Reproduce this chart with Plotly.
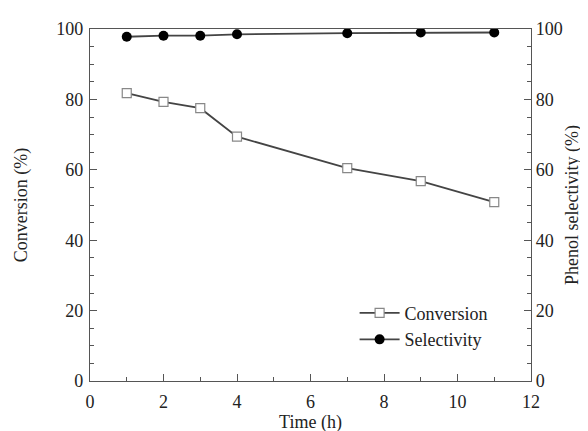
import plotly.graph_objects as go

time_h = [1, 2, 3, 4, 7, 9, 11]
conversion = [81.8, 79.3, 77.5, 69.4, 60.5, 56.8, 50.8]
selectivity = [97.8, 98.1, 98.1, 98.5, 98.8, 99.0, 99.0]

FONT = "Liberation Serif, Times New Roman, serif"
LINE = "#444444"

fig = go.Figure()
fig.add_trace(go.Scatter(
    x=time_h, y=conversion, name="Conversion", mode="lines+markers",
    line=dict(color=LINE, width=1.8),
    marker=dict(symbol="square", size=9, color="white", line=dict(width=1.2, color="#888888")),
    yaxis="y"))
fig.add_trace(go.Scatter(
    x=time_h, y=selectivity, name="Selectivity", mode="lines+markers",
    line=dict(color=LINE, width=1.8),
    marker=dict(symbol="circle", size=10, color="black"),
    yaxis="y2"))

axis_common = dict(
    showgrid=False, zeroline=False, showline=True, linecolor="#555555", linewidth=1.2,
    ticks="inside", ticklen=7, tickwidth=1, tickcolor="#555555",
    tickfont=dict(family=FONT, size=18, color="#222222"),
)

fig.update_layout(
    width=588, height=431,
    margin=dict(l=82, r=65, t=21, b=58, autoexpand=False),
    paper_bgcolor="white", plot_bgcolor="white",
    font=dict(family=FONT, size=18, color="#222222"),
    showlegend=True,
    legend=dict(x=0.60, y=0.245, xanchor="left", yanchor="top",
                bgcolor="rgba(0,0,0,0)", font=dict(family=FONT, size=18),
                tracegroupgap=0, itemwidth=40),
    xaxis=dict(range=[0, 12], tickvals=[0, 2, 4, 6, 8, 10, 12], mirror=True,
               ticklabelstandoff=4,
               minor=dict(dtick=1, ticks="inside", ticklen=4, tickcolor="#555555"),
               title=dict(text="Time (h)", font=dict(family=FONT, size=18), standoff=4),
               **axis_common),
    yaxis=dict(range=[0, 100], tickvals=[0, 20, 40, 60, 80, 100],
               ticklabelstandoff=2,
               minor=dict(dtick=5, ticks="inside", ticklen=4, tickcolor="#555555"),
               title=dict(text="Conversion (%)", font=dict(family=FONT, size=18), standoff=23),
               **axis_common),
    yaxis2=dict(range=[0, 100], tickvals=[0, 20, 40, 60, 80, 100], overlaying="y", side="right",
                minor=dict(dtick=5, ticks="inside", ticklen=4, tickcolor="#555555"),
                title=dict(text="Phenol selectivity (%)", font=dict(family=FONT, size=18), standoff=3),
                **axis_common),
)

fig.write_html("out.html")
